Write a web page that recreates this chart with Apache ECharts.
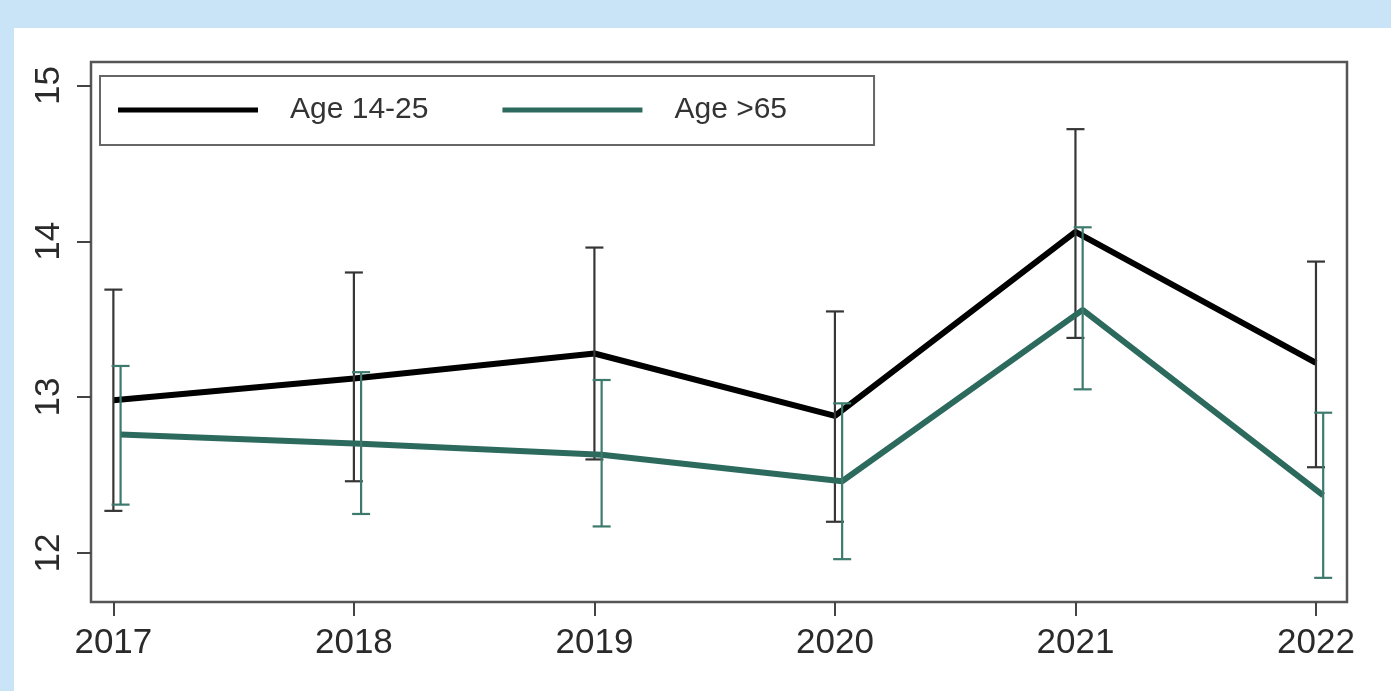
<!DOCTYPE html>
<html>
<head>
<meta charset="utf-8">
<style>
  html, body { margin: 0; padding: 0; background: #c9e4f6; }
  #chart { width: 1391px; height: 691px; }
</style>
<script src="https://cdn.jsdelivr.net/npm/echarts@6/dist/echarts.min.js"></script>
</head>
<body>
<div id="chart"></div>
<script>
// Survey years and tick labels
const years = [2017, 2018, 2019, 2020, 2021, 2022];
const yTicks = [12, 13, 14, 15];

// Age 14-25: mean with lower / upper interval bounds
const youngMean = [12.98, 13.12, 13.28, 12.88, 14.06, 13.22];
const youngLow  = [12.27, 12.46, 12.60, 12.20, 13.38, 12.55];
const youngHigh = [13.69, 13.80, 13.96, 13.55, 14.72, 13.87];

// Age >65: mean with lower / upper interval bounds
const olderMean = [12.76, 12.70, 12.63, 12.46, 13.56, 12.37];
const olderLow  = [12.31, 12.25, 12.17, 11.96, 13.05, 11.84];
const olderHigh = [13.20, 13.16, 13.11, 12.96, 14.09, 12.90];

const seriesNames = ['Age 14-25', 'Age >65'];

// the second group is nudged right so the interval bars don't overlap
const dodge = [0, 0.03];

const colors = { young: '#000000', older: '#2d6a5e' };
const barColors = { young: '#363636', older: '#3d7a6d' };
const font = '"Liberation Sans", Arial, Helvetica, sans-serif';

function linePoints(mean, shift) {
  return years.map((y, i) => [y + shift, mean[i]]);
}
function barPoints(low, high, shift) {
  return years.map((y, i) => [y + shift, low[i], high[i]]);
}
function errorBars(color) {
  return function (params, api) {
    const x = api.value(0);
    const lo = api.coord([x, api.value(1)]);
    const hi = api.coord([x, api.value(2)]);
    const cap = 9;
    const style = { stroke: color, lineWidth: 2.2 };
    return {
      type: 'group',
      children: [
        { type: 'line', shape: { x1: lo[0], y1: lo[1], x2: hi[0], y2: hi[1] }, style },
        { type: 'line', shape: { x1: hi[0] - cap, y1: hi[1], x2: hi[0] + cap, y2: hi[1] }, style },
        { type: 'line', shape: { x1: lo[0] - cap, y1: lo[1], x2: lo[0] + cap, y2: lo[1] }, style }
      ]
    };
  };
}

const chart = echarts.init(document.getElementById('chart'), null, { renderer: 'canvas' });

chart.setOption({
  backgroundColor: '#c9e4f6',
  animation: false,
  graphic: [{
    type: 'rect',
    z: -10,
    shape: { x: 14, y: 28, width: 1377, height: 663 },
    style: { fill: '#ffffff' },
    silent: true
  }],
  grid: {
    left: 91, right: 44, top: 62, bottom: 89,
    show: true,
    borderColor: '#555555',
    borderWidth: 2.5,
    backgroundColor: 'transparent'
  },
  legend: {
    left: 100, top: 76,
    orient: 'horizontal',
    padding: [19, 87, 20, 18],
    itemGap: 74,
    itemWidth: 140,
    itemHeight: 5,
    icon: 'rect',
    borderColor: '#666666',
    borderWidth: 2,
    backgroundColor: '#ffffff',
    data: seriesNames,
    textStyle: {
      fontFamily: font, fontSize: 30, color: '#333333',
      padding: [0, 0, 0, 27]
    }
  },
  xAxis: {
    type: 'value',
    min: 2016.907,
    max: 2022.129,
    axisLine: { show: false },
    splitLine: { show: false },
    axisTick: {
      show: true, length: 14, inside: false,
      customValues: years,
      lineStyle: { color: '#444444', width: 2 }
    },
    axisLabel: {
      customValues: years,
      formatter: v => String(v),
      margin: 24,
      fontFamily: font, fontSize: 35, color: '#2a2a2a'
    }
  },
  yAxis: {
    type: 'value',
    min: 11.685,
    max: 15.151,
    axisLine: { show: false },
    splitLine: { show: false },
    axisTick: {
      show: true, length: 14, inside: false,
      customValues: yTicks,
      lineStyle: { color: '#444444', width: 2 }
    },
    axisLabel: {
      customValues: yTicks,
      formatter: v => String(v),
      rotate: 90,
      margin: 24,
      fontFamily: font, fontSize: 35, color: '#2a2a2a'
    }
  },
  series: [
    {
      name: seriesNames[0],
      type: 'line',
      data: linePoints(youngMean, dodge[0]),
      showSymbol: false,
      symbol: 'none',
      itemStyle: { color: colors.young },
      lineStyle: { color: colors.young, width: 6 },
      z: 3
    },
    {
      name: seriesNames[0] + ' interval',
      type: 'custom',
      renderItem: errorBars(barColors.young),
      data: barPoints(youngLow, youngHigh, dodge[0]),
      encode: { x: 0, y: [1, 2] },
      z: 4
    },
    {
      name: seriesNames[1],
      type: 'line',
      data: linePoints(olderMean, dodge[1]),
      showSymbol: false,
      symbol: 'none',
      itemStyle: { color: colors.older },
      lineStyle: { color: colors.older, width: 6 },
      z: 5
    },
    {
      name: seriesNames[1] + ' interval',
      type: 'custom',
      renderItem: errorBars(barColors.older),
      data: barPoints(olderLow, olderHigh, dodge[1]),
      encode: { x: 0, y: [1, 2] },
      z: 6
    }
  ]
});
</script>
</body>
</html>
